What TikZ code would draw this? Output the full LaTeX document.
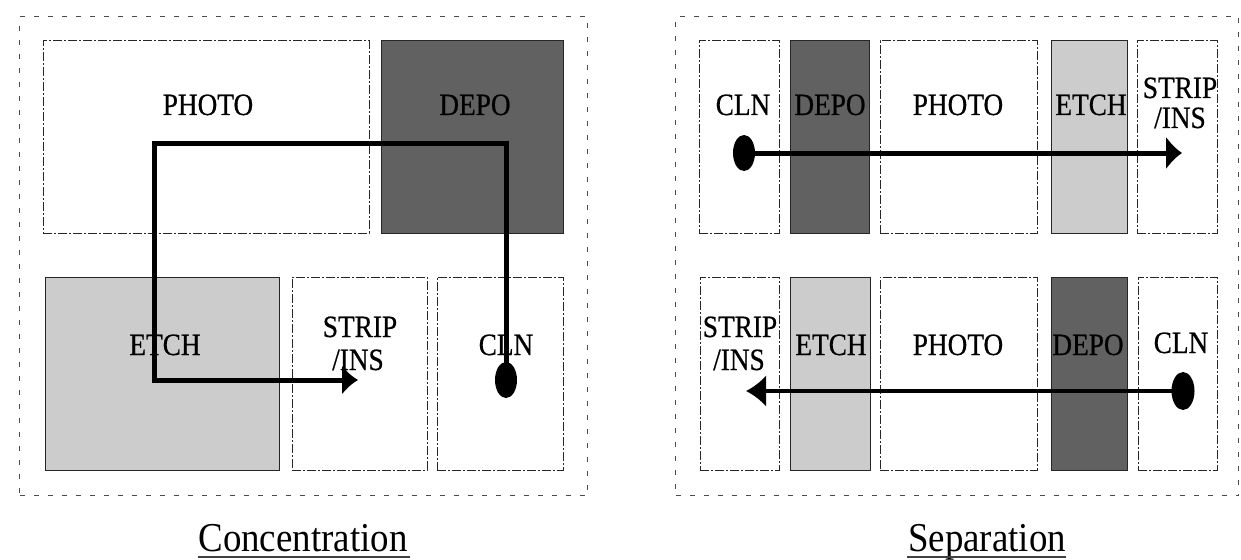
\documentclass[tikz,border=0pt]{standalone}
\usepackage{fontspec}
\setmainfont{Liberation Serif}
\newfontfamily\labfont[FakeStretch=0.88,FakeBold=0.6]{Liberation Serif}
\newfontfamily\captfont[FakeStretch=0.9]{Liberation Serif}
\usetikzlibrary{arrows.meta,shapes.geometric}
\tikzset{
  stage/.style={draw=black!85, line width=1pt, dash pattern=on 9pt off 2pt on 2pt off 2pt,
    inner sep=0pt, outer sep=0pt, anchor=north west, fill=white},
  darkstage/.style={stage, solid, fill=black!62},
  lightstage/.style={stage, solid, fill=black!20},
  outerframe/.style={draw=black!70, line width=1.1pt, dash pattern=on 5pt off 9pt,
    inner sep=0pt, anchor=north west},
  lab/.style={font=\labfont\fontsize{31}{33}\selectfont, inner sep=0pt, anchor=base},
  capt/.style={font=\captfont\fontsize{41}{44}\selectfont, inner sep=0pt, anchor=base},
  blob/.style={ellipse, fill=black, inner sep=0pt, minimum width=22pt, minimum height=36pt},
  flow/.style={line width=5pt, -{Latex[length=16pt,width=30pt]}},
  thinflow/.style={line width=3.5pt, -{Latex[length=20pt,width=32pt]}},
  uline/.style={draw=black!75, line width=1.5pt}
}
\begin{document}
\begin{tikzpicture}[x=1pt,y=-1pt]
\useasboundingbox[fill=white] (0,0) rectangle (1241,559);

% ---------- left panel: Concentration ----------
\node[outerframe, minimum width=568pt, minimum height=479pt] (lframe) at (19,16) {};
\node[stage, minimum width=326pt, minimum height=192pt] (lphoto) at (43,41) {};
\node[darkstage, minimum width=182pt, minimum height=192pt] (ldepo) at (381,41) {};
\node[lightstage, minimum width=234pt, minimum height=193pt] (letch) at (45,277) {};
\node[stage, minimum width=135pt, minimum height=193pt] (lstrip) at (292,277) {};
\node[stage, minimum width=126pt, minimum height=193pt] (lcln) at (437,277) {};

\node[lab] (lphotot) at (208,115) {PHOTO};
\node[lab] (ldepot) at (475,115) {DEPO};
\node[lab] (letcht) at (165,355) {ETCH};
\node[lab] (lstripa) at (360,337) {STRIP};
\node[lab] (lstripb) at (358,370) {/INS};
\node[lab] (lclnt) at (506,355) {CLN};

\node[blob] (ldot) at (506,380) {};
\coordinate (lc1) at (506,143);
\coordinate (lc2) at (154,143);
\coordinate (lc3) at (154,380);
\coordinate (lend) at (358,380);
\draw[flow] (ldot.center) -- (lc1) -- (lc2) -- (lc3) -- (lend);

\node[capt] (lcap) at (303,551) {Concentration};
\coordinate (lu1) at (198,557);
\coordinate (lu2) at (410,557);
\draw[uline] (lu1) -- (lu2);

% ---------- right panel: Separation ----------
\node[outerframe, minimum width=563pt, minimum height=479pt] (rframe) at (675,16) {};
\node[stage, minimum width=80pt, minimum height=192pt] (rclna) at (699,41) {};
\node[darkstage, minimum width=79pt, minimum height=192pt] (rdepoa) at (790,41) {};
\node[stage, minimum width=157pt, minimum height=192pt] (rphotoa) at (880,41) {};
\node[lightstage, minimum width=76pt, minimum height=192pt] (retcha) at (1051,41) {};
\node[stage, minimum width=80pt, minimum height=192pt] (rstripa) at (1137,41) {};

\node[stage, minimum width=79pt, minimum height=193pt] (rstripb) at (700,277) {};
\node[lightstage, minimum width=80pt, minimum height=193pt] (retchb) at (790,277) {};
\node[stage, minimum width=157pt, minimum height=193pt] (rphotob) at (880,277) {};
\node[darkstage, minimum width=76pt, minimum height=193pt] (rdepob) at (1051,277) {};
\node[stage, minimum width=79pt, minimum height=193pt] (rclnb) at (1138,277) {};

\node[lab] (rclnat) at (743,115) {CLN};
\node[lab] (rdepoat) at (830,115) {DEPO};
\node[lab] (rphotoat) at (958,115) {PHOTO};
\node[lab] (retchat) at (1091,115) {ETCH};
\node[lab] (rstripa1) at (1180,98) {STRIP};
\node[lab] (rstripa2) at (1180,128) {/INS};

\node[lab] (rstripb1) at (740,337) {STRIP};
\node[lab] (rstripb2) at (739,370) {/INS};
\node[lab] (retchbt) at (831,355) {ETCH};
\node[lab] (rphotobt) at (958,355) {PHOTO};
\node[lab] (rdepobt) at (1088,355) {DEPO};
\node[lab] (rclnbt) at (1181,353) {CLN};

\node[blob] (rdota) at (744,153) {};
\coordinate (renda) at (1182,153);
\draw[flow, -{Latex[length=16pt,width=34pt]}] (rdota.center) -- (renda);

\node[blob, minimum width=23pt, minimum height=38pt] (rdotb) at (1183,391) {};
\coordinate (rendb) at (746,391);
\draw[thinflow] (rdotb.center) -- (rendb);

\node[capt] (rcap) at (987,551) {Separation};
\coordinate (ru1) at (907,557);
\coordinate (ru2) at (1066,557);
\draw[uline] (ru1) -- (ru2);
\end{tikzpicture}
\end{document}
